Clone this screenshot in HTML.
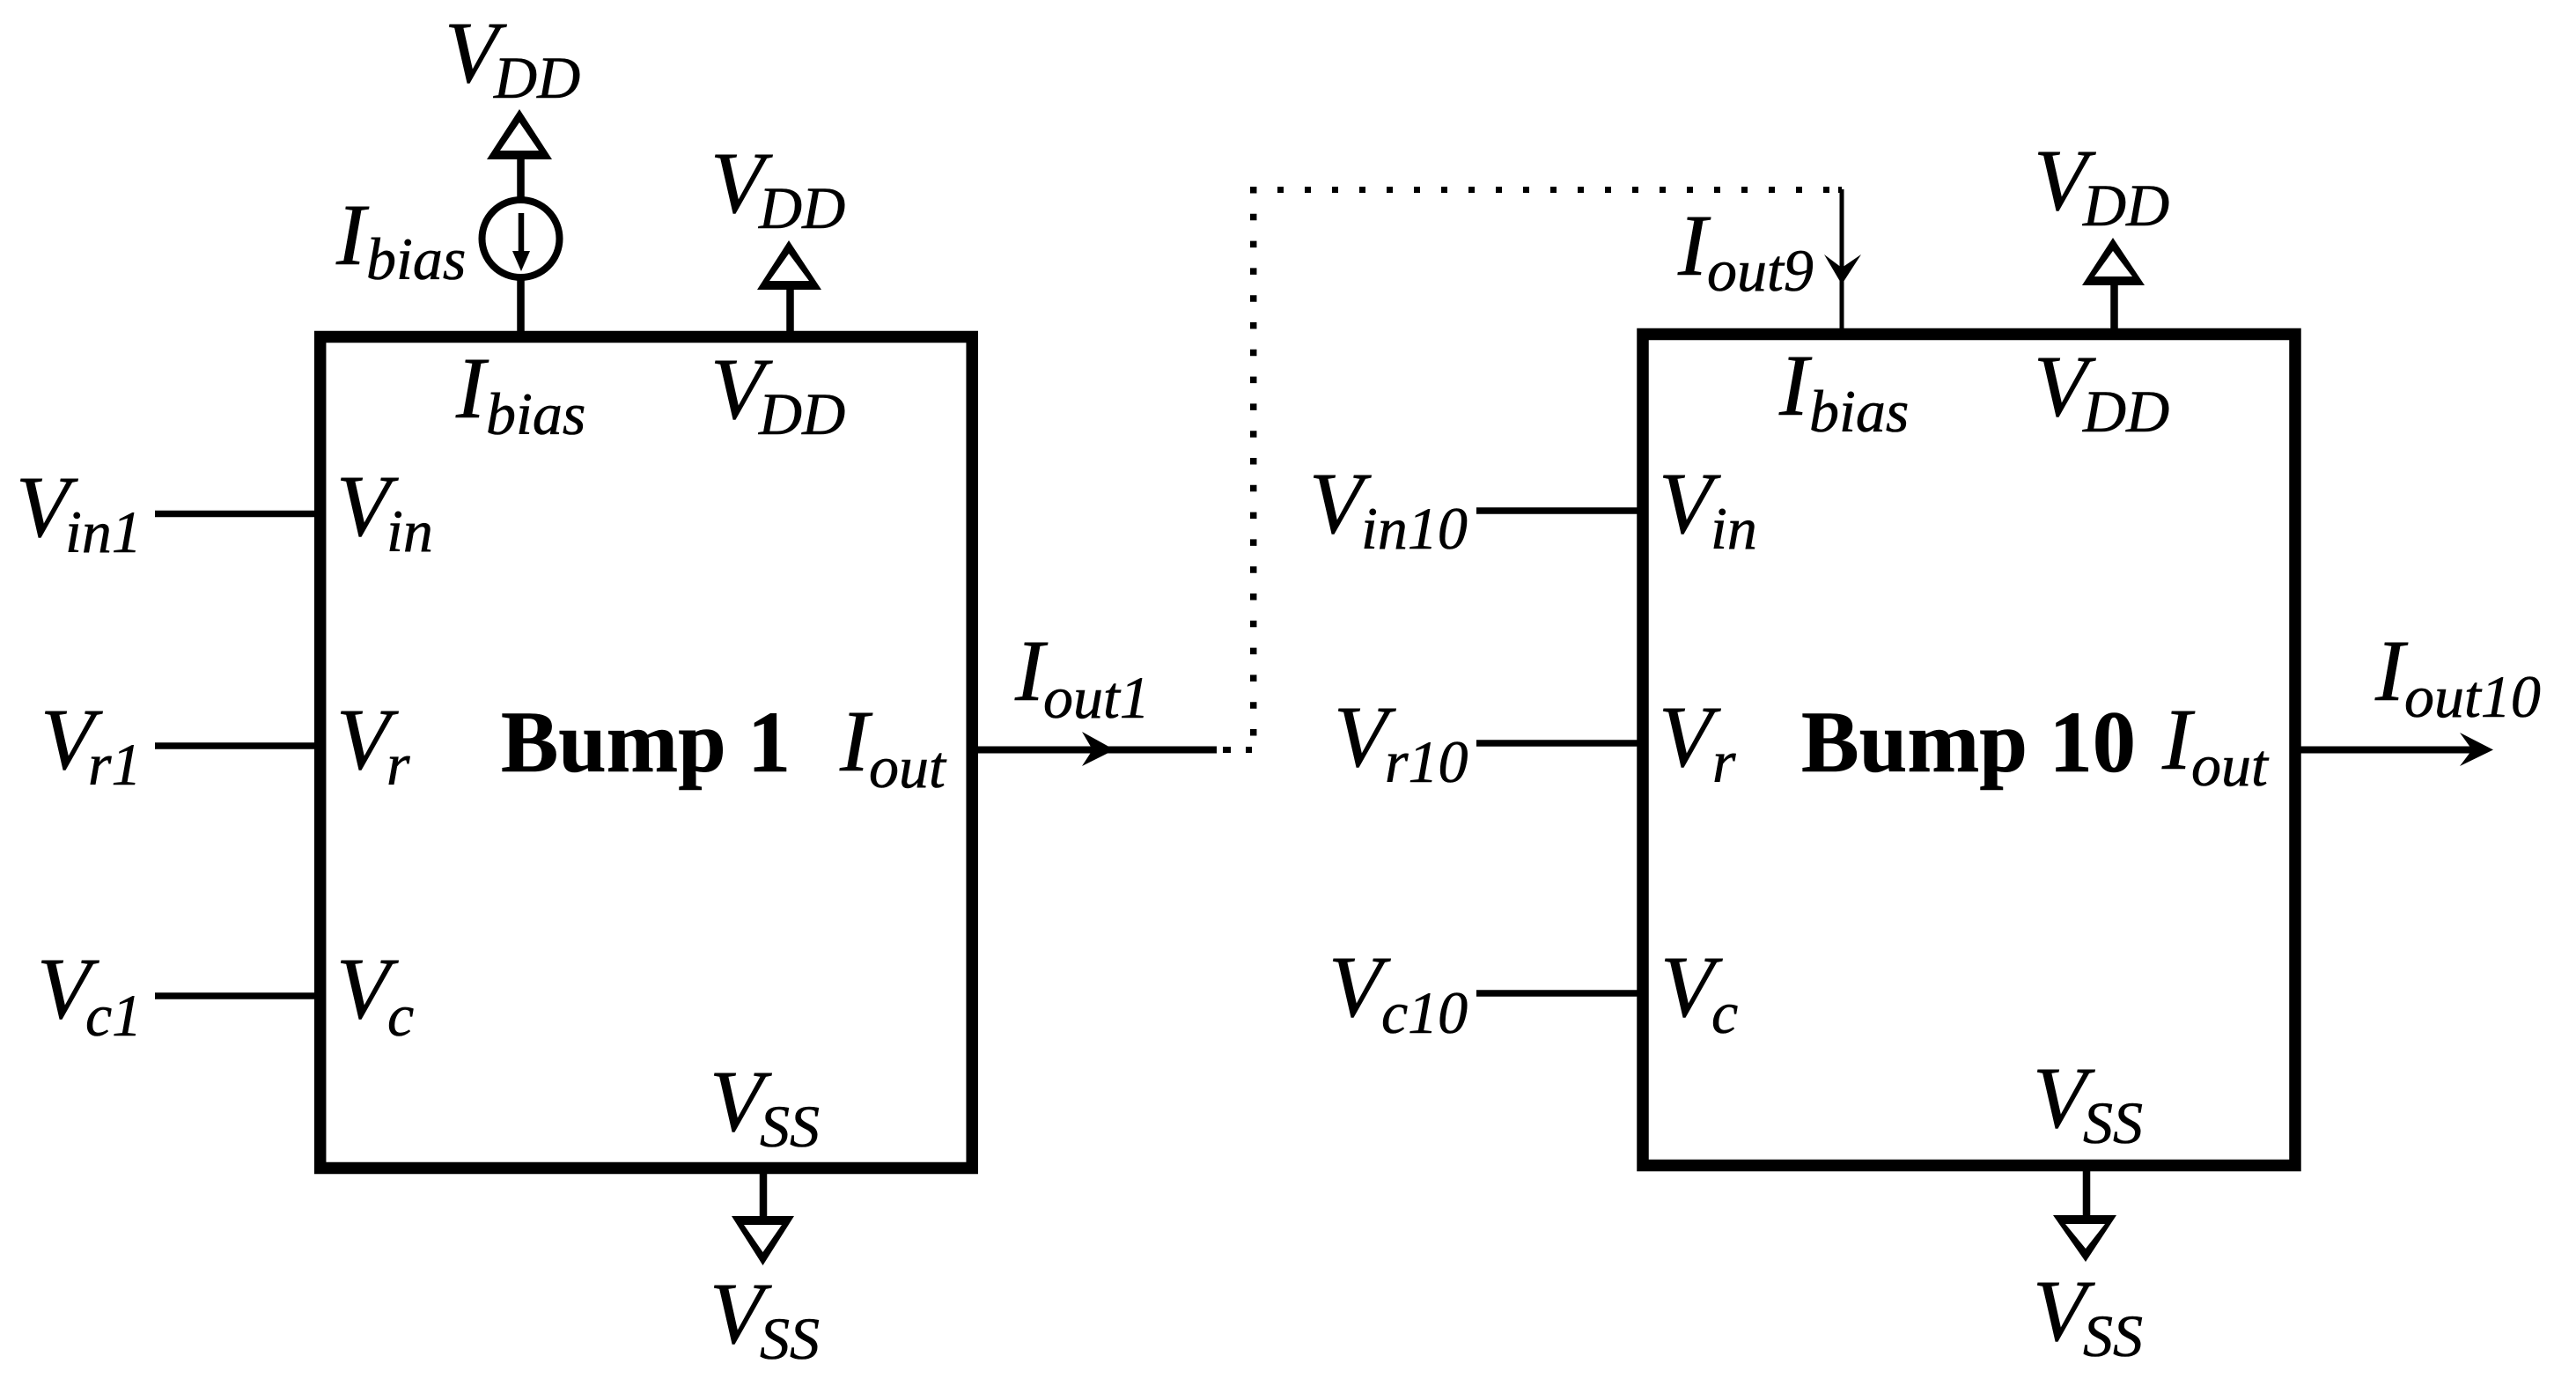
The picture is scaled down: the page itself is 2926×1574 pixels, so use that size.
<!DOCTYPE html>
<html><head><meta charset="utf-8"><style>
html,body{margin:0;padding:0;background:#fff}
svg{display:block}
text{font-family:"Liberation Serif",serif;font-style:italic;fill:#000;stroke:#000;stroke-width:.6px}
.m{font-size:100px}.s{font-size:68px}
.b{font-size:100px;font-weight:bold;font-style:normal}
</style></head><body>
<svg width="2926" height="1574" viewBox="0 0 2926 1574" xmlns="http://www.w3.org/2000/svg">
<rect width="2926" height="1574" fill="#fff"/>
<g fill="none" stroke="#000" stroke-width="13.500">
<rect x="363.700" y="382.500" width="740.500" height="944"/>
<rect x="1866" y="379.500" width="741" height="944"/>
</g>
<g fill="none" stroke="#000" stroke-width="7.500">
<path d="M176 583.500H358M176 847H358M176 1131H358M1677 580H1860M1677 844H1860M1677 1128H1860"/>
<path d="M1110 851.500H1382M2613 851.500H2810" stroke-width="8"/>
<path d="M591.500 178V224M591.500 318V376M897.500 326V376M867 1333V1384M2401.500 321V373M2370 1330V1382" stroke-width="8.500"/>
<circle cx="591.500" cy="271" r="44" stroke-width="8"/>
<path d="M592 242V288" stroke-width="6.500"/>
<path d="M2092 215V373" stroke-width="5"/>
<path d="M1420 215.500H2092M1389 851.500H1398M1415 851.500H1422" stroke-width="7"/>
</g>
<path d="M1420 215.500H2088" fill="none" stroke="#fff" stroke-width="9" stroke-dasharray="0 7 24 0"/>
<path d="M1423.700 212V855" fill="none" stroke="#000" stroke-width="7.500" stroke-dasharray="7.500 23.300"/>
<g fill="#000" fill-rule="evenodd">
<path d="M590 124L553 181H627ZM590 139L568 171H612Z"/>
<path d="M896 273L860 329H933ZM896 288L874 319H919Z"/>
<path d="M2400 270L2365 324H2436ZM2400 285L2379 314H2422Z"/>
<path d="M866.500 1437L831 1381H902ZM866.500 1422L845 1391H888Z"/>
<path d="M2369 1433L2332 1380H2404ZM2369 1418L2346 1390H2391Z"/>
<path d="M592 308L582 285H602Z"/>
<path d="M2092 323L2072 289L2092 304L2114 289Z"/>
<path d="M1266 851.500L1229 831L1241 851.500L1229 870Z"/>
<path d="M2832 851.500L2794 832L2808 851.500L2794 870Z"/>
</g>
<text class="m" x="505" y="93">V</text><text class="s" x="561" y="111">DD</text>
<text class="m" x="807" y="241">V</text><text class="s" x="862" y="259">DD</text>
<text class="m" x="382" y="300">I</text><text class="s" x="416" y="317">bias</text>
<text class="m" x="518" y="474">I</text><text class="s" x="552" y="493">bias</text>
<text class="m" x="807" y="475">V</text><text class="s" x="862" y="493">DD</text>
<text class="m" x="18" y="609">V</text><text class="s" x="74" y="627">in1</text>
<text class="m" x="382" y="608">V</text><text class="s" x="439" y="626">in</text>
<text class="m" x="46" y="873">V</text><text class="s" x="100" y="891">r1</text>
<text class="m" x="382" y="873">V</text><text class="s" x="439" y="891">r</text>
<text class="b" x="569" y="876" textLength="329" lengthAdjust="spacingAndGlyphs">Bump 1</text>
<text class="m" x="954" y="875">I</text><text class="s" x="987" y="894">out</text>
<text class="m" x="1153" y="795">I</text><text class="s" x="1185" y="815">out1</text>
<text class="m" x="42" y="1156">V</text><text class="s" x="97" y="1176">c1</text>
<text class="m" x="382" y="1156">V</text><text class="s" x="440" y="1176">c</text>
<text class="m" x="806" y="1284">V</text><text class="s" x="863" y="1302">SS</text>
<text class="m" x="806" y="1525">V</text><text class="s" x="863" y="1543">SS</text>
<text class="m" x="1906" y="312">I</text><text class="s" x="1939" y="330">out9</text>
<text class="m" x="2310" y="238">V</text><text class="s" x="2366" y="256">DD</text>
<text class="m" x="2021" y="471">I</text><text class="s" x="2055" y="490">bias</text>
<text class="m" x="2310" y="472">V</text><text class="s" x="2366" y="490">DD</text>
<text class="m" x="1487" y="605">V</text><text class="s" x="1546" y="623">in10</text>
<text class="m" x="1884" y="605">V</text><text class="s" x="1943" y="623">in</text>
<text class="m" x="1515" y="870">V</text><text class="s" x="1573" y="888">r10</text>
<text class="m" x="1884" y="870">V</text><text class="s" x="1945" y="888">r</text>
<text class="b" x="2046" y="876" textLength="380" lengthAdjust="spacingAndGlyphs">Bump 10</text>
<text class="m" x="2456" y="873">I</text><text class="s" x="2489" y="892">out</text>
<text class="m" x="2698" y="795">I</text><text class="s" x="2731" y="814">out10</text>
<text class="m" x="1509" y="1154">V</text><text class="s" x="1569" y="1173">c10</text>
<text class="m" x="1886" y="1154">V</text><text class="s" x="1944" y="1173">c</text>
<text class="m" x="2309" y="1280">V</text><text class="s" x="2366" y="1298">SS</text>
<text class="m" x="2309" y="1522">V</text><text class="s" x="2366" y="1540">SS</text>
</svg>
</body></html>
